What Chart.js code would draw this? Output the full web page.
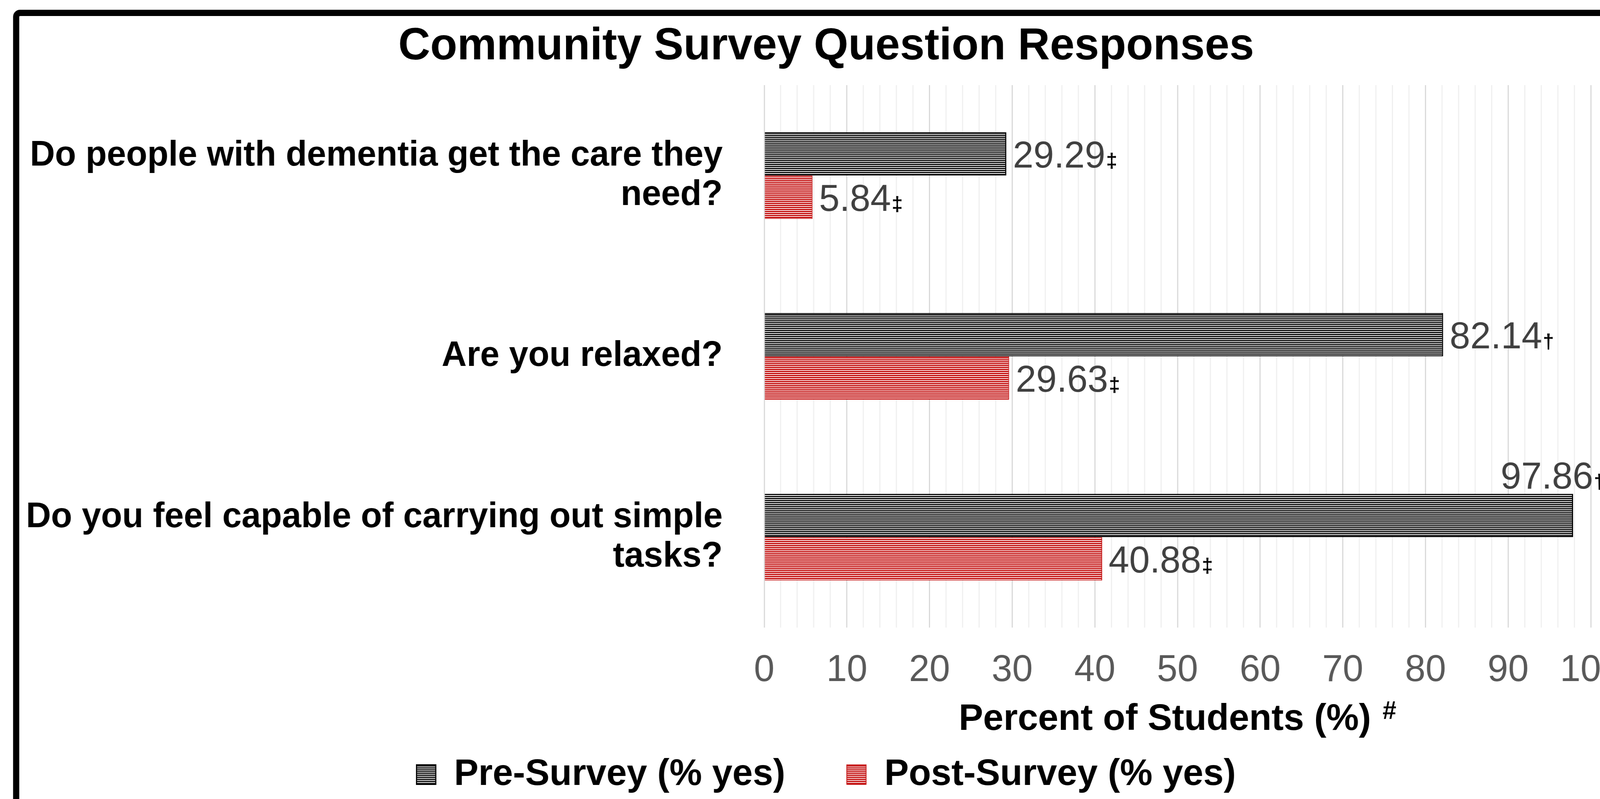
<!DOCTYPE html>
<html>
<head>
<meta charset="utf-8">
<script src="https://cdn.jsdelivr.net/npm/chart.js@4.4.1/dist/chart.umd.min.js"></script>
<style>
html,body{margin:0;padding:0;background:#fff;overflow:hidden;}
#wrap{position:absolute;left:0;top:0;width:4158px;height:2046px;transform-origin:0 0;}
canvas{display:block;}
</style>
</head>
<body>
<div id="wrap"><canvas id="c" width="4158" height="2046"></canvas></div>
<script>
// ---- data ----
const categories = [
  ["Do people with dementia get the care they", "need?"],
  "Are you relaxed?",
  ["Do you feel capable of carrying out simple", "tasks?"]
];
const seriesNames = ["Pre-Survey (% yes)", "Post-Survey (% yes)"];
const preValues = [29.29, 82.14, 97.86];
const postValues = [5.84, 29.63, 40.88];
const preMarks = ["\u2021", "\u2020", "\u2020"];
const postMarks = ["\u2021", "\u2021", "\u2021"];
const xTickLabels = ["0","10","20","30","40","50","60","70","80","90","100"];
const chartTitle = "Community Survey Question Responses";
const xAxisTitle = "Percent of Students (%)";
const xAxisTitleMark = "#";

// fit the 4158x2046 drawing to the actual viewport
const W = 4158, H = 2046;
const wrap = document.getElementById('wrap');
wrap.style.transform = 'scale(' + (window.innerWidth / W) + ',' + (window.innerHeight / H) + ')';

// ---- styling ----
const FONT = "'Liberation Sans', Arial, Helvetica, sans-serif";
Chart.defaults.font.family = FONT;

const canvas = document.getElementById('c');
const ctx0 = canvas.getContext('2d');
function stripes(color) {
  const c = document.createElement('canvas');
  c.width = 8; c.height = 5;
  const g = c.getContext('2d');
  g.fillStyle = '#ffffff'; g.fillRect(0, 0, 8, 5);
  g.fillStyle = color; g.fillRect(0, 0, 8, 3);
  return ctx0.createPattern(c, 'repeat');
}
const prePattern = stripes('#000000');
const postPattern = stripes('#C00000');
const marks = [preMarks, postMarks];

const framePlugin = {
  id: 'frame',
  beforeDraw(chart) {
    const ctx = chart.ctx;
    ctx.save();
    ctx.fillStyle = '#ffffff';
    ctx.fillRect(0, 0, chart.width, chart.height);
    ctx.strokeStyle = '#000000';
    ctx.lineWidth = 16;
    ctx.beginPath();
    if (ctx.roundRect) ctx.roundRect(42, 33, 4300, 2100, 10);
    else ctx.rect(42, 33, 4300, 2100);
    ctx.stroke();
    ctx.restore();
  }
};

const labelPlugin = {
  id: 'valueLabels',
  afterDatasetsDraw(chart) {
    const ctx = chart.ctx;
    ctx.save();
    chart.data.datasets.forEach((ds, di) => {
      const meta = chart.getDatasetMeta(di);
      meta.data.forEach((bar, i) => {
        const num = ds.data[i].toFixed(2);
        const mk = marks[di][i];
        ctx.font = "96px " + FONT;
        const nw = ctx.measureText(num).width;
        ctx.font = "bold 52px " + FONT;
        const mw = ctx.measureText(mk).width;
        let x = bar.x + 17;
        let base = bar.y + 35;
        if (x + nw + mw > chart.width) {
          x = bar.x + 52 - nw;
          base = bar.y - bar.height / 2 - 13;
        }
        ctx.textBaseline = 'alphabetic';
        ctx.textAlign = 'left';
        ctx.font = "96px " + FONT;
        ctx.fillStyle = '#404040';
        ctx.fillText(num, x, base);
        ctx.font = "bold 52px " + FONT;
        ctx.fillStyle = '#000000';
        ctx.fillText(mk, x + nw + 2, base);
      });
    });
    ctx.restore();
  }
};

const axisTitlePlugin = {
  id: 'xAxisTitle',
  afterDraw(chart) {
    const ctx = chart.ctx;
    const area = chart.chartArea;
    ctx.save();
    ctx.fillStyle = '#000000';
    ctx.textBaseline = 'alphabetic';
    ctx.textAlign = 'left';
    ctx.font = "bold 95px " + FONT;
    const w1 = ctx.measureText(xAxisTitle).width;
    ctx.font = "bold 64px " + FONT;
    const w2 = ctx.measureText(xAxisTitleMark).width;
    const gap = 30;
    const cx = (area.left + area.right) / 2;
    const start = cx - (w1 + gap + w2) / 2;
    ctx.font = "bold 95px " + FONT;
    ctx.fillText(xAxisTitle, start, 1869);
    ctx.font = "bold 64px " + FONT;
    ctx.fillText(xAxisTitleMark, start + w1 + gap, 1841);
    ctx.restore();
  }
};

new Chart(canvas, {
  type: 'bar',
  data: {
    labels: categories,
    datasets: [
      { label: seriesNames[0], data: preValues, backgroundColor: prePattern, borderColor: '#000000', borderWidth: 3 },
      { label: seriesNames[1], data: postValues, backgroundColor: postPattern, borderColor: '#C00000', borderWidth: 2 }
    ]
  },
  plugins: [framePlugin, labelPlugin, axisTitlePlugin],
  options: {
    indexAxis: 'y',
    responsive: false,
    animation: false,
    devicePixelRatio: 1,
    layout: { padding: { left: 40, right: -96, top: 0, bottom: 5 } },
    datasets: { bar: { categoryPercentage: 0.48, barPercentage: 1.0 } },
    scales: {
      x: {
        type: 'linear', min: 0, max: 100, position: 'bottom',
        ticks: {
          stepSize: 2, autoSkip: false, maxRotation: 0, minRotation: 0,
          padding: 53, color: '#595959', font: { size: 96 },
          callback: (v) => (v % 10 === 0 ? xTickLabels[v / 10] : '')
        },
        grid: {
          drawTicks: false,
          color: (c) => (c.tick && c.tick.value % 10 === 0 ? '#D9D9D9' : '#F0F0F0'),
          lineWidth: 3
        },
        border: { display: false },
        afterFit: (s) => { s.height = 169; s.paddingLeft = 0; s.paddingRight = 24; }
      },
      y: {
        ticks: { padding: 108, color: '#000000', font: { size: 90, weight: 'bold', lineHeight: 1.12 } },
        grid: { display: false, drawTicks: false },
        border: { display: false },
        afterFit: (s) => { s.width = 1946; s.paddingTop = 0; s.paddingBottom = 0; }
      }
    },
    plugins: {
      title: {
        display: true, text: chartTitle, color: '#000000',
        font: { size: 115, weight: 'bold' },
        padding: { top: 51, bottom: 29 }
      },
      legend: {
        position: 'bottom',
        labels: { boxWidth: 50, boxHeight: 50, padding: 160, color: '#000000', font: { size: 95, weight: 'bold' } }
      },
      tooltip: { enabled: false }
    }
  }
});
</script>
</body>
</html>
